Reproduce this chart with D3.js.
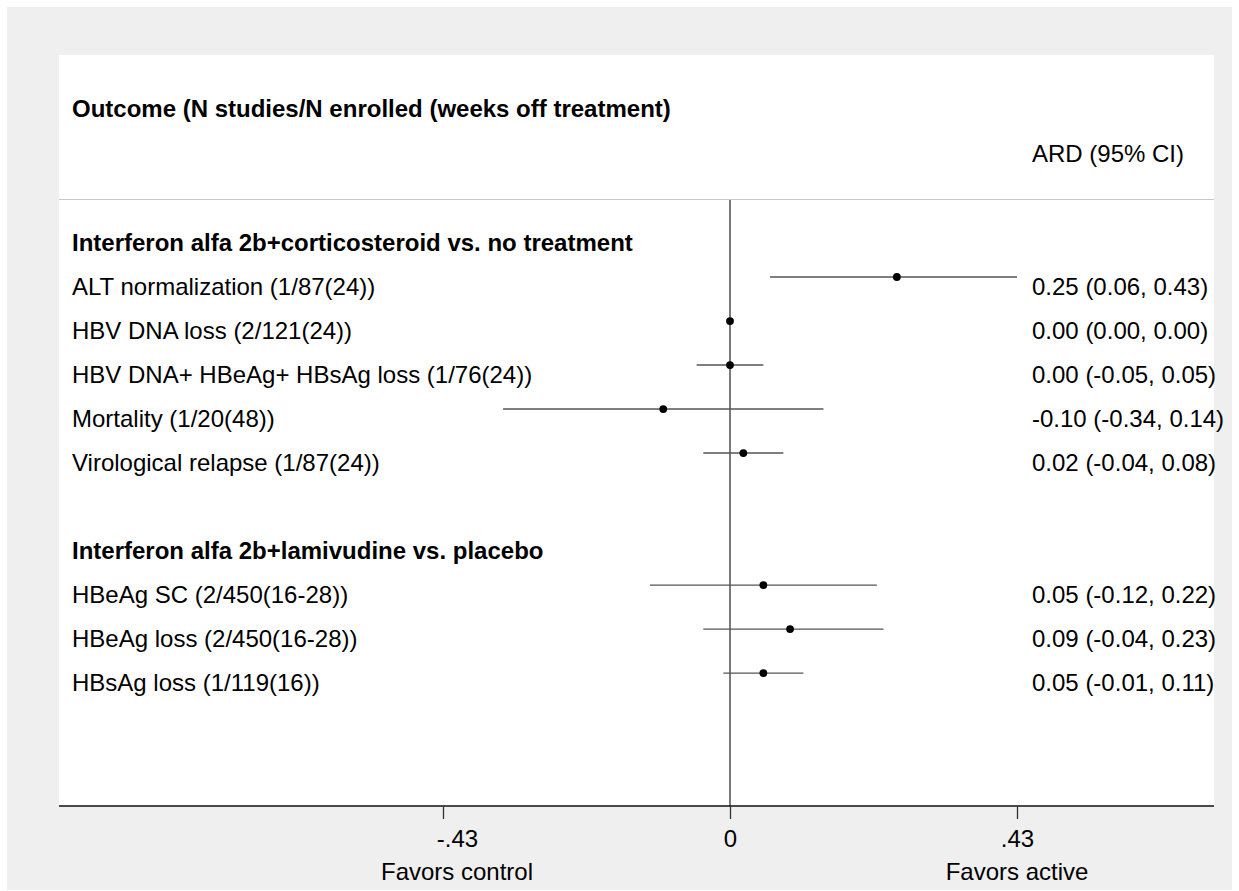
<!DOCTYPE html>
<html>
<head>
<meta charset="utf-8">
<script src="https://cdn.jsdelivr.net/npm/d3@7"></script>
<style>
  body { margin: 0; background: #fff; }
  text { font-family: "Liberation Sans", Arial, sans-serif; }
</style>
</head>
<body>
<div id="container"></div>
<script>
// rows of the forest plot (group headers have no estimate)
const groups = [
    "Interferon alfa 2b+corticosteroid vs. no treatment",
    "Interferon alfa 2b+lamivudine vs. placebo"
];
const outcomes = [
    "ALT normalization (1/87(24))",
    "HBV DNA loss (2/121(24))",
    "HBV DNA+ HBeAg+ HBsAg loss (1/76(24))",
    "Mortality (1/20(48))",
    "Virological relapse (1/87(24))",
    "HBeAg SC (2/450(16-28))",
    "HBeAg loss (2/450(16-28))",
    "HBsAg loss (1/119(16))"
];
const outcomeGroup = [0, 0, 0, 0, 0, 1, 1, 1];
const ard   = [0.25, 0.00, 0.00, -0.10, 0.02, 0.05, 0.09, 0.05];
const lower = [0.06, 0.00, -0.05, -0.34, -0.04, -0.12, -0.04, -0.01];
const upper = [0.43, 0.00, 0.05, 0.14, 0.08, 0.22, 0.23, 0.11];
const ticks = [-0.43, 0, 0.43];
const tickLabels = ["-.43", "0", ".43"];
const sideLabels = ["Favors control", "Favors active"];

// build row layout: group header then its outcomes, blank row between groups
let rows = [];
let r = 0;
groups.forEach((g, gi) => {
    if (gi > 0) r++;
    rows.push({ row: r++, label: g, header: true });
    outcomes.forEach((o, i) => {
        if (outcomeGroup[i] === gi) {
            rows.push({ row: r++, label: o, header: false, est: ard[i], lo: lower[i], hi: upper[i] });
        }
    });
});

width = 1239;
height = 891;
plotLeft = 59;
plotRight = 1214;
plotTop = 55;
plotBottom = 806;
fontSize = 24;

const x = d3.scaleLinear()
    .domain([-0.43, 0.43])
    .range([443, 1017]);

const y = d3.scaleLinear()
    .domain([-4.045, 13.02])
    .range([plotTop, plotBottom]);

// stata style: plain hyphen for negatives
const fmt = v => d3.format(".2f")(v).replace("\u2212", "-");

const svg = d3.select("#container").append("svg")
    .attr("width", width)
    .attr("height", height)
    .attr("viewBox", [0, 0, width, height]);

svg.append("rect")
    .attr("x", 7).attr("y", 7)
    .attr("width", 1225).attr("height", 883)
    .attr("fill", "#efefef");

svg.append("rect")
    .attr("x", plotLeft).attr("y", plotTop)
    .attr("width", plotRight - plotLeft).attr("height", plotBottom - plotTop)
    .attr("fill", "#fff");

// column headers
svg.append("text")
    .attr("x", 72).attr("y", y(-3) + 16)
    .attr("font-size", fontSize).attr("font-weight", "bold")
    .text("Outcome (N studies/N enrolled (weeks off treatment)");

svg.append("text")
    .attr("x", 1032).attr("y", y(-2) + 17)
    .attr("font-size", fontSize)
    .text("ARD (95% CI)");

svg.append("line")
    .attr("x1", plotLeft).attr("x2", plotRight)
    .attr("y1", 199.5).attr("y2", 199.5)
    .attr("stroke", "#c8c8c8");

// no-effect line
svg.append("line")
    .attr("x1", x(0)).attr("x2", x(0))
    .attr("y1", 200).attr("y2", plotBottom)
    .attr("stroke", "#5a5a5a").attr("stroke-width", 1.6);

// labels
svg.append("g")
    .selectAll()
    .data(rows)
    .join("text")
    .attr("x", 72)
    .attr("y", d => y(d.row) + 18)
    .attr("font-size", fontSize)
    .attr("font-weight", d => d.header ? "bold" : "normal")
    .text(d => d.label);

const est = rows.filter(d => !d.header);

svg.append("g")
    .attr("stroke", "#555")
    .attr("stroke-width", 1.4)
    .selectAll()
    .data(est)
    .join("line")
    .attr("x1", d => x(d.lo)).attr("x2", d => x(d.hi))
    .attr("y1", d => y(d.row)).attr("y2", d => y(d.row));

svg.append("g")
    .selectAll()
    .data(est)
    .join("circle")
    .attr("cx", d => x(d.est))
    .attr("cy", d => y(d.row))
    .attr("r", 3.9)
    .attr("fill", "#000");

svg.append("g")
    .selectAll()
    .data(est)
    .join("text")
    .attr("x", 1032)
    .attr("y", d => y(d.row) + 18)
    .attr("font-size", fontSize)
    .text(d => `${fmt(d.est)} (${fmt(d.lo)}, ${fmt(d.hi)})`);

// bottom axis
svg.append("line")
    .attr("x1", plotLeft).attr("x2", plotRight)
    .attr("y1", plotBottom).attr("y2", plotBottom)
    .attr("stroke", "#111").attr("stroke-width", 1.6);

// left label sits a little right of its tick in the original
const labelShift = [14, 0, 0];

svg.append("g")
    .attr("transform", `translate(0,${plotBottom})`)
    .call(d3.axisBottom(x).tickValues(ticks).tickSize(13).tickSizeOuter(0)
        .tickFormat((d, i) => tickLabels[i]))
    .call(g => g.select(".domain").remove())
    .call(g => g.selectAll(".tick line").attr("stroke", "#333").attr("stroke-width", 1.3))
    .call(g => g.selectAll(".tick text")
        .attr("font-size", fontSize)
        .attr("font-family", "Liberation Sans, Arial, sans-serif")
        .attr("fill", "#000")
        .attr("dy", null)
        .attr("y", 41)
        .attr("dx", (d, i) => labelShift[i]));

svg.append("g")
    .selectAll()
    .data(sideLabels)
    .join("text")
    .attr("x", (d, i) => x(ticks[i * 2]) + labelShift[i * 2])
    .attr("y", 880)
    .attr("text-anchor", "middle")
    .attr("font-size", fontSize)
    .text(d => d);
</script>
</body>
</html>
